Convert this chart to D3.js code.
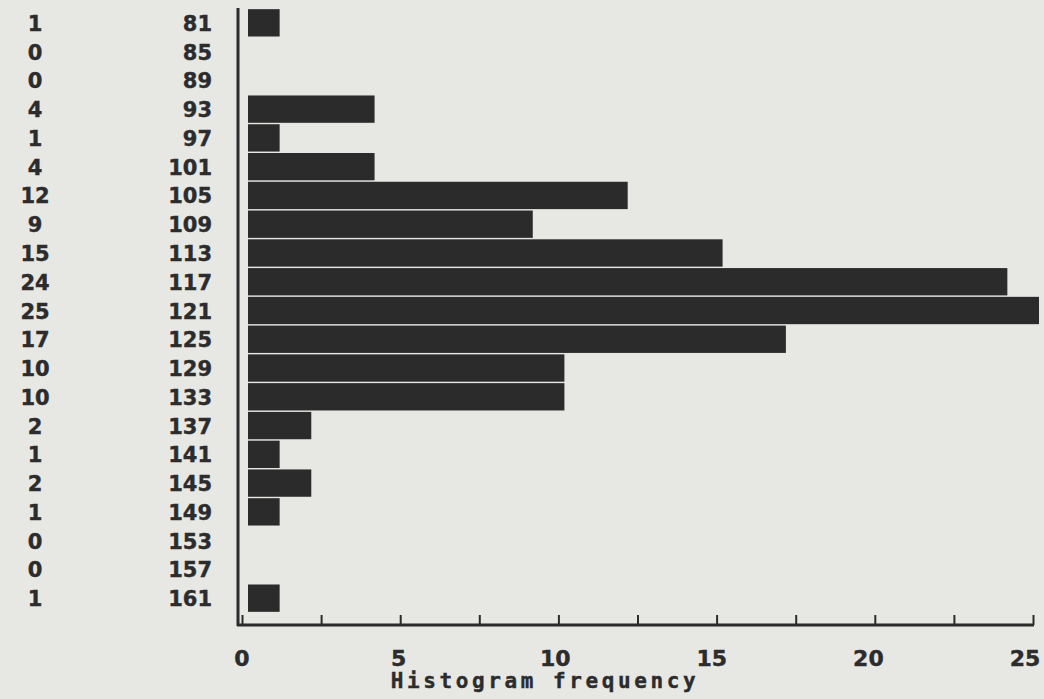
<!DOCTYPE html>
<html>
<head>
<meta charset="utf-8">
<script src="https://cdn.jsdelivr.net/npm/d3@7"></script>
<style>
  html, body { margin: 0; padding: 0; background: #e7e7e4; }
  svg { display: block; }
  text { font-weight: bold; fill: #2c2c2c; stroke: #2c2c2c; stroke-width: 0.4px; }
  .num { font-family: "DejaVu Sans", sans-serif; }
  .mono { font-family: "DejaVu Sans Mono", monospace; }
</style>
</head>
<body>
<svg id="chart" width="1044" height="699"></svg>
<script>
const bins = [81, 85, 89, 93, 97, 101, 105, 109, 113, 117, 121, 125, 129, 133, 137, 141, 145, 149, 153, 157, 161];
const counts = [1, 0, 0, 4, 1, 4, 12, 9, 15, 24, 25, 17, 10, 10, 2, 1, 2, 1, 0, 0, 1];
const xTicks = [0, 2.5, 5, 7.5, 10, 12.5, 15, 17.5, 20, 22.5, 25];
const xLabelValues = [0, 5, 10, 15, 20, 25];
const xTitle = "Histogram frequency";

const ink = "#2b2b2b";
const svg = d3.select("#chart");
svg.append("rect").attr("width", 1044).attr("height", 699).attr("fill", "#e7e7e4");

const x = d3.scaleLinear().domain([0, 25]).range([242, 1033]);
const y = d3.scaleBand().domain(bins).range([8.6, 612.4]).paddingInner(0.05).paddingOuter(0.02);

// bars
svg.append("g").selectAll("rect")
  .data(bins.map((b, i) => ({ b, c: counts[i] })).filter(d => d.c > 0))
  .join("rect")
  .attr("x", x(0) + 6)
  .attr("y", d => y(d.b))
  .attr("width", d => x(d.c) - x(0))
  .attr("height", y.bandwidth())
  .attr("fill", ink);

// count column
svg.append("g").selectAll("text")
  .data(bins.map((b, i) => ({ b, c: counts[i] })))
  .join("text")
  .attr("class", "num")
  .attr("x", 35)
  .attr("y", d => y(d.b) + y.bandwidth() / 2 + 8)
  .attr("text-anchor", "middle")
  .attr("font-size", 21)
  .text(d => d.c);

// bin labels
svg.append("g").selectAll("text")
  .data(bins)
  .join("text")
  .attr("class", "num")
  .attr("x", 212)
  .attr("y", d => y(d) + y.bandwidth() / 2 + 8)
  .attr("text-anchor", "end")
  .attr("font-size", 21)
  .text(d => d);

// y axis line
svg.append("line")
  .attr("x1", 238).attr("x2", 238)
  .attr("y1", 8).attr("y2", 626)
  .attr("stroke", ink).attr("stroke-width", 3);

// x axis
const xAxis = d3.axisTop(x).tickValues(xTicks).tickSize(10).tickFormat("");
const gx = svg.append("g").attr("transform", "translate(0,625)").call(xAxis);
gx.select(".domain").remove();
gx.selectAll(".tick line").attr("stroke", ink).attr("stroke-width", 2);
svg.append("line")
  .attr("x1", 237).attr("x2", x(25) + 1)
  .attr("y1", 625).attr("y2", 625)
  .attr("stroke", ink).attr("stroke-width", 3);

// x tick labels
svg.append("g").selectAll("text")
  .data(xLabelValues)
  .join("text")
  .attr("class", "num")
  .attr("x", d => x(d) - d * 0.32)
  .attr("y", 666)
  .attr("text-anchor", "middle")
  .attr("font-size", 22)
  .text(d => d);

// x title
svg.append("text")
  .attr("class", "mono")
  .attr("x", 545)
  .attr("y", 688)
  .attr("text-anchor", "middle")
  .attr("font-size", 21)
  .attr("letter-spacing", 3.6)
  .text(xTitle);
</script>
</body>
</html>
